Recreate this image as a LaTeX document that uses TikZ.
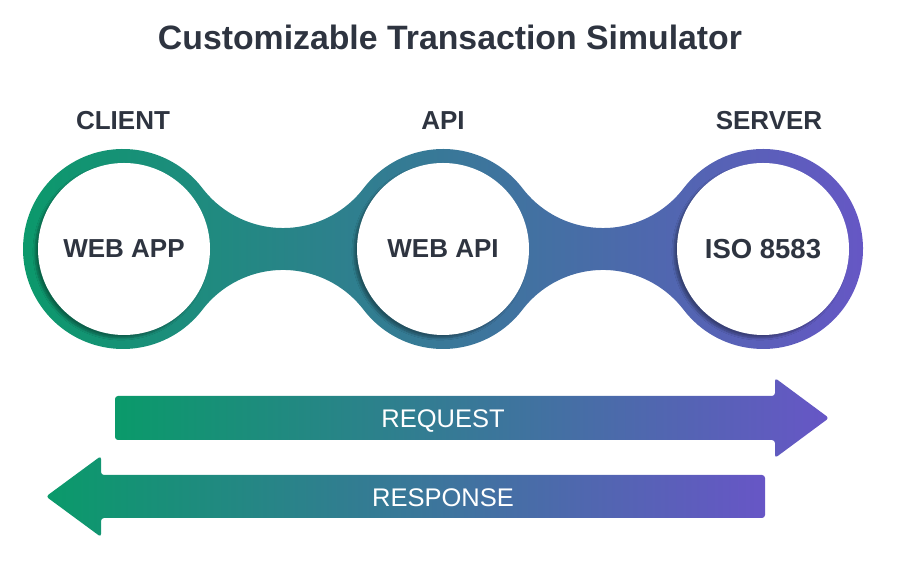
\documentclass[tikz,border=0pt]{standalone}
\usepackage{fontspec}
\setmainfont{Liberation Sans}
\usepackage{xcolor}
\usetikzlibrary{positioning, calc, shadows, shadows.blur}
\definecolor{bandgreen}{HTML}{0A9A6A}
\definecolor{bandpurple}{HTML}{6756C6}
\definecolor{ink}{HTML}{2E3440}
\begin{document}
\begin{tikzpicture}[x=1pt,y=1pt,
    band/.style={left color=bandgreen,right color=bandpurple},
    hub/.style={circle,fill=white,minimum size=172,inner sep=0pt,text=ink,
        font=\bfseries\fontsize{26}{30}\selectfont,
        blur shadow={shadow xshift=-3pt,shadow yshift=-3pt,shadow blur steps=8,shadow opacity=35}},
    tier/.style={anchor=base,text=ink,font=\bfseries\fontsize{26}{30}\selectfont},
    flow/.style={anchor=base,text=white,font=\fontsize{25.5}{30}\selectfont}]
    \useasboundingbox (0,0) rectangle (900,585);
    % Titolo
    \node[anchor=base,text=ink,font=\bfseries\fontsize{33.8}{40}\selectfont] (title) at (450,535) {Customizable Transaction Simulator};
    % Nastro con tre cerchi
    \shade[band] (123,336) ++(37.43:100)
        arc[start angle=37.43,end angle=322.57,radius=100]
        arc[start angle=142.57,end angle=37.43,radius=101.5]
        arc[start angle=217.43,end angle=322.57,radius=100]
        arc[start angle=142.57,end angle=37.43,radius=101.5]
        arc[start angle=217.43,end angle=502.57,radius=100]
        arc[start angle=322.57,end angle=217.43,radius=101.5]
        arc[start angle=37.43,end angle=142.57,radius=100]
        arc[start angle=322.57,end angle=217.43,radius=101.5] -- cycle;
    \node[hub] (app) at (124,336) {WEB APP};
    \node[hub] (api) at (443,336) {WEB API};
    \node[hub,font=\bfseries\fontsize{27.5}{30}\selectfont] (iso) at (763,336) {ISO 8583};
    \node[tier] (client) at (123,455) {CLIENT};
    \node[tier] (apilabel) at (443,455) {API};
    \node[tier] (server) at (769,455) {SERVER};
    % Frecce
    \shade[band,rounded corners=3pt] (115,145) -- (115,189) -- (775,189) -- (775,207)
        -- (829,167) -- (775,127) -- (775,145) -- cycle;
    \node[flow] (request) at (443,157) {REQUEST};
    \shade[band,rounded corners=3pt] (765,67) -- (765,110) -- (101,110) -- (101,129)
        -- (46,88.5) -- (101,48) -- (101,67) -- cycle;
    \node[flow] (response) at (443,78) {RESPONSE};
\end{tikzpicture}
\end{document}
